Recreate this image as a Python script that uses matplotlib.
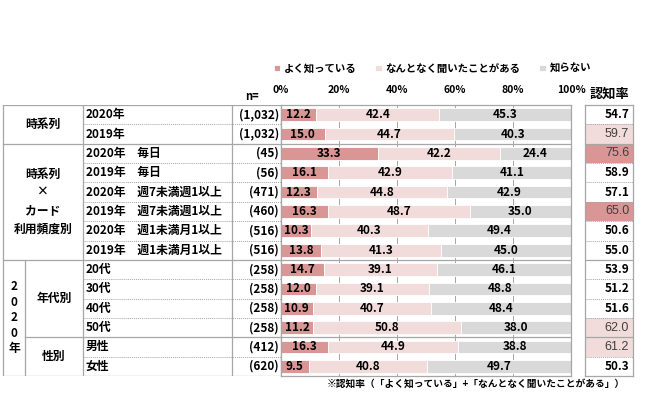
import matplotlib
matplotlib.use("Agg")
import matplotlib.pyplot as plt

plt.rcParams['font.family'] = ['Noto Sans CJK JP', 'DejaVu Sans']
plt.rcParams['font.weight'] = 'bold'

# ---- data ----
series = ["よく知っている", "なんとなく聞いたことがある", "知らない"]
row_labels = ["2020年", "2019年", "2020年　毎日", "2019年　毎日",
              "2020年　週7未満週1以上", "2019年　週7未満週1以上",
              "2020年　週1未満月1以上", "2019年　週1未満月1以上",
              "20代", "30代", "40代", "50代", "男性", "女性"]
n_labels = ["(1,032)", "(1,032)", "(45)", "(56)", "(471)", "(460)", "(516)",
            "(516)", "(258)", "(258)", "(258)", "(258)", "(412)", "(620)"]
well = [12.2, 15.0, 33.3, 16.1, 12.3, 16.3, 10.3, 13.8, 14.7, 12.0, 10.9, 11.2, 16.3, 9.5]
heard = [42.4, 44.7, 42.2, 42.9, 44.8, 48.7, 40.3, 41.3, 39.1, 39.1, 40.7, 50.8, 44.9, 40.8]
unknown = [45.3, 40.3, 24.4, 41.1, 42.9, 35.0, 49.4, 45.0, 46.1, 48.8, 48.4, 38.0, 38.8, 49.7]
rate = [54.7, 59.7, 75.6, 58.9, 57.1, 65.0, 50.6, 55.0, 53.9, 51.2, 51.6, 62.0, 61.2, 50.3]
rate_mark = ["", "light", "dark", "", "", "dark", "", "", "", "", "", "light", "light", ""]
x_ticks = [0, 20, 40, 60, 80, 100]

# groups: (label, first row, last row, column)
groups = [("時系列", 0, 1, "wide"),
          ("時系列\n×\nカード\n利用頻度別", 2, 7, "wide"),
          ("2\n0\n2\n0\n年", 8, 13, "year"),
          ("年代別", 8, 11, "sub"),
          ("性別", 12, 13, "sub")]
group_breaks = [1.5, 7.5]
sub_breaks = [11.5]

colors = ["#D99694", "#F2DCDB", "#D9D9D9"]
mark_colors = {"": "white", "light": "#F2DCDB", "dark": "#D99694"}
line_c = "#A6A6A6"

W, H = 650, 394
fig = plt.figure(figsize=(W / 100, H / 100), dpi=100)

top_px, bot_px = 105, 376
nrows = len(row_labels)


def box(x0, x1):
    return [x0 / W, 1 - bot_px / H, (x1 - x0) / W, (bot_px - top_px) / H]


# ---- table (x in pixels, y in rows) ----
tab = fig.add_axes(box(0, W))
tab.set_xlim(0, W)
tab.set_ylim(nrows - 0.5, -0.5)
tab.axis("off")
lw = 0.9
tab.plot([3, 281, 281, 3, 3], [-0.5, -0.5, nrows - 0.5, nrows - 0.5, -0.5],
         color=line_c, lw=lw)
for x in (83, 232):
    tab.plot([x, x], [-0.5, nrows - 0.5], color=line_c, lw=lw)
tab.plot([25, 25], [7.5, nrows - 0.5], color=line_c, lw=lw)
for y in group_breaks:
    tab.plot([3, 281], [y, y], color=line_c, lw=lw)
for y in sub_breaks:
    tab.plot([25, 281], [y, y], color=line_c, lw=lw)
for i in range(nrows - 1):
    y = i + 0.5
    if y not in group_breaks + sub_breaks:
        tab.plot([83, 281], [y, y], color=line_c, lw=0.7, ls=(0, (1, 1)))

fs = 8.5
for i, (lab, nl) in enumerate(zip(row_labels, n_labels)):
    tab.text(86, i, lab, ha="left", va="center", fontsize=fs)
    tab.text(279, i, nl, ha="right", va="center", fontsize=fs)

col_x = {"wide": 43, "year": 14, "sub": 54}
for lab, r0, r1, col in groups:
    ls = 1.25 if col == "year" else 1.55
    tab.text(col_x[col], (r0 + r1) / 2, lab, ha="center", va="center",
             fontsize=fs, linespacing=ls)

# ---- stacked bar chart ----
ax = fig.add_axes(box(281, 571))
rows = list(range(nrows))
left = [0] * nrows
for vals, c, name in zip([well, heard, unknown], colors, series):
    ax.barh(rows, vals, left=left, height=0.66, color=c,
            edgecolor="white", linewidth=0.6, label=name, zorder=2)
    for r, v, l in zip(rows, vals, left):
        ax.text(l + v / 2, r, f"{v:.1f}", ha="center", va="center",
                fontsize=fs, zorder=3)
    left = [a + b for a, b in zip(left, vals)]
ax.set_xlim(0, 100)
ax.set_ylim(nrows - 0.5, -0.5)
ax.set_yticks([])
ax.set_xticks(x_ticks)
ax.set_xticklabels([f"{t}%" for t in x_ticks], fontsize=7.5)
ax.xaxis.tick_top()
ax.tick_params(axis="x", length=0, pad=7)
ax.grid(axis="x", color=line_c, lw=0.7, zorder=0)
for y in group_breaks + sub_breaks:
    ax.axhline(y, color=line_c, lw=lw, zorder=1)
for s in ax.spines.values():
    s.set_color(line_c)
    s.set_linewidth(lw)

ax.legend(ncol=3, loc="lower left", bbox_to_anchor=(-0.04, 1.10),
          frameon=False, fontsize=7.5, handlelength=0.6, handleheight=0.6,
          handletextpad=0.4, columnspacing=1.8, borderaxespad=0)

# ---- 認知率 column ----
rx = fig.add_axes(box(585, 633))
rx.barh(rows, [1] * nrows, height=1, color=[mark_colors[m] for m in rate_mark])
rx.set_xlim(0, 1)
rx.set_ylim(nrows - 0.5, -0.5)
rx.set_xticks([])
rx.set_yticks([])
for i, (v, m) in enumerate(zip(rate, rate_mark)):
    if m:
        rx.text(0.92, i, f"{v:.1f}", ha="right", va="center", fontsize=9,
                fontweight="normal", color="#404040", family="Liberation Sans")
    else:
        rx.text(0.92, i, f"{v:.1f}", ha="right", va="center", fontsize=fs)
for i in range(nrows - 1):
    y = i + 0.5
    if y in group_breaks + sub_breaks:
        rx.axhline(y, color=line_c, lw=lw)
    else:
        rx.axhline(y, color=line_c, lw=0.7, ls=(0, (1, 1)))
for s in rx.spines.values():
    s.set_color(line_c)
    s.set_linewidth(lw)

# ---- header / footnote ----
fig.text(252 / W, 1 - 97 / H, "n=", ha="center", va="center", fontsize=8)
fig.text(610 / W, 1 - 94 / H, "認知率", ha="center", va="center", fontsize=9.5)
fig.text(625 / W, 1 - 384 / H, "※認知率（「よく知っている」+「なんとなく聞いたことがある」）",
         ha="right", va="center", fontsize=7)

fig.savefig("out.png", dpi=100)
